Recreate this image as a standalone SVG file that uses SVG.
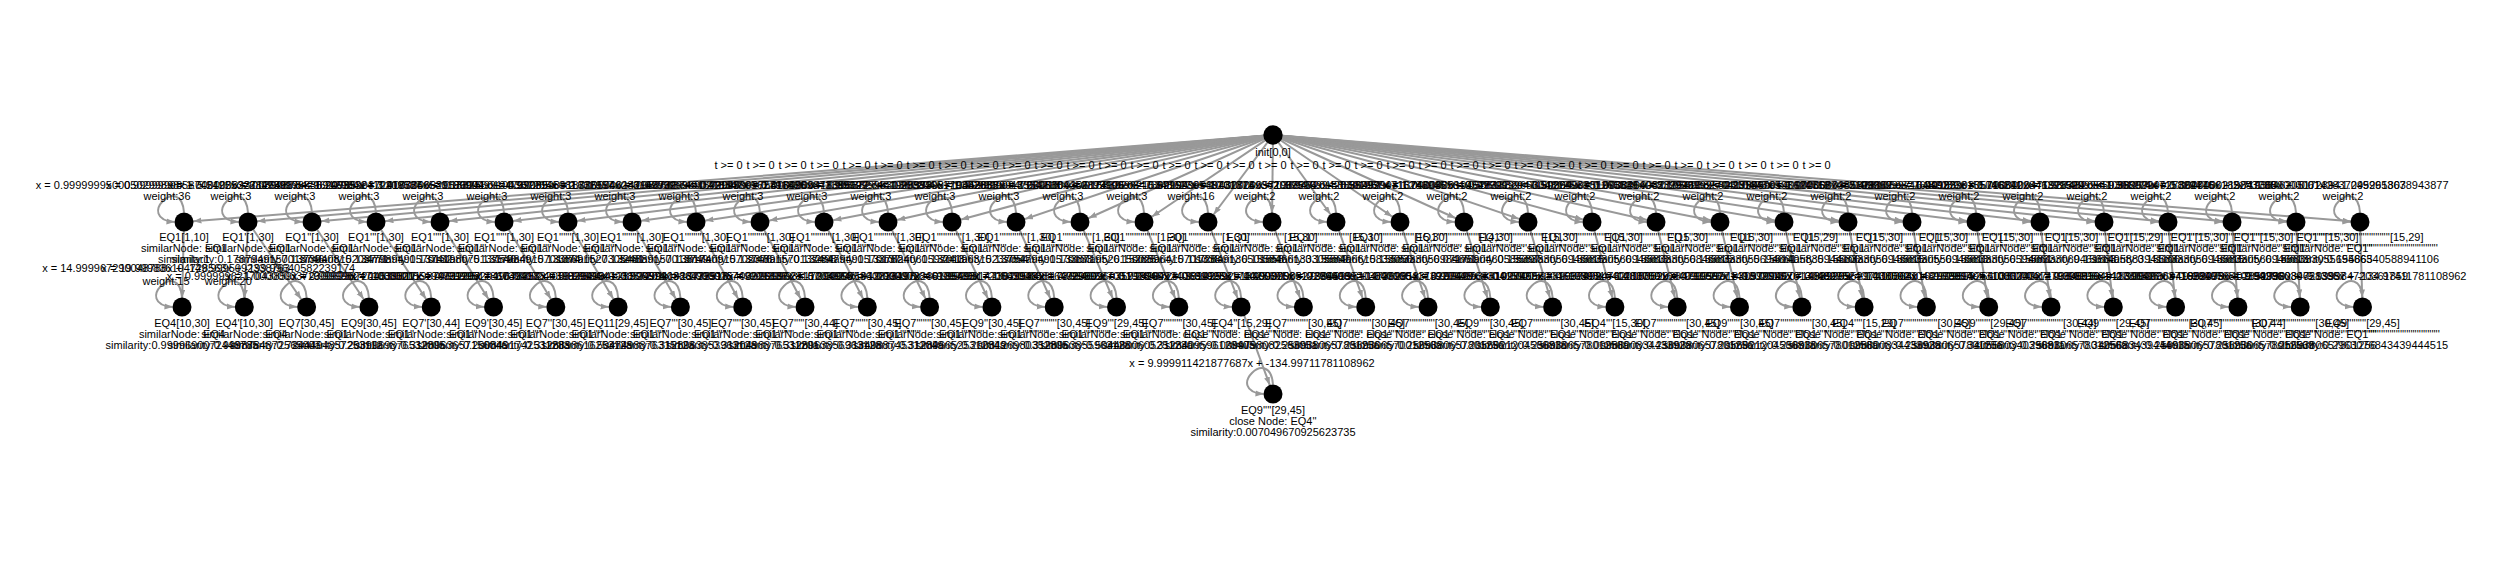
<svg xmlns="http://www.w3.org/2000/svg" width="2500" height="562" viewBox="0 0 2500 562">
<style>
text{font-family:"Liberation Sans",Arial,sans-serif;font-size:11px;fill:#000;text-anchor:middle}
.e{stroke:#999;stroke-width:2;fill:none}
.l{marker-end:url(#b)}
circle{fill:#000}
</style>
<defs>
<marker id="a" markerUnits="userSpaceOnUse" markerWidth="10" markerHeight="8" refX="8" refY="3" orient="auto"><path d="M0,0L8,3L0,6z" fill="#999"/></marker>
<marker id="b" markerUnits="userSpaceOnUse" markerWidth="10" markerHeight="8" refX="17.5" refY="3" orient="auto"><path d="M0,0L8,3L0,6z" fill="#999"/></marker>
<path id="lp" class="e" d="M0,-9.5C-3,-50 -50,-3 -9.5,0" marker-end="url(#a)"/>
</defs>
<rect width="2500" height="562" fill="#fff"/>
<g id="connectors">
<g id="root-edges">
<line class="e l" x1="1273" y1="135" x2="184" y2="222"/>
<line class="e l" x1="1273" y1="135" x2="248" y2="222"/>
<line class="e l" x1="1273" y1="135" x2="312" y2="222"/>
<line class="e l" x1="1273" y1="135" x2="376" y2="222"/>
<line class="e l" x1="1273" y1="135" x2="440" y2="222"/>
<line class="e l" x1="1273" y1="135" x2="504" y2="222"/>
<line class="e l" x1="1273" y1="135" x2="568" y2="222"/>
<line class="e l" x1="1273" y1="135" x2="632" y2="222"/>
<line class="e l" x1="1273" y1="135" x2="696" y2="222"/>
<line class="e l" x1="1273" y1="135" x2="760" y2="222"/>
<line class="e l" x1="1273" y1="135" x2="824" y2="222"/>
<line class="e l" x1="1273" y1="135" x2="888" y2="222"/>
<line class="e l" x1="1273" y1="135" x2="952" y2="222"/>
<line class="e l" x1="1273" y1="135" x2="1016" y2="222"/>
<line class="e l" x1="1273" y1="135" x2="1080" y2="222"/>
<line class="e l" x1="1273" y1="135" x2="1144" y2="222"/>
<line class="e l" x1="1273" y1="135" x2="1208" y2="222"/>
<line class="e l" x1="1273" y1="135" x2="1272" y2="222"/>
<line class="e l" x1="1273" y1="135" x2="1336" y2="222"/>
<line class="e l" x1="1273" y1="135" x2="1400" y2="222"/>
<line class="e l" x1="1273" y1="135" x2="1464" y2="222"/>
<line class="e l" x1="1273" y1="135" x2="1528" y2="222"/>
<line class="e l" x1="1273" y1="135" x2="1592" y2="222"/>
<line class="e l" x1="1273" y1="135" x2="1656" y2="222"/>
<line class="e l" x1="1273" y1="135" x2="1720" y2="222"/>
<line class="e l" x1="1273" y1="135" x2="1784" y2="222"/>
<line class="e l" x1="1273" y1="135" x2="1848" y2="222"/>
<line class="e l" x1="1273" y1="135" x2="1912" y2="222"/>
<line class="e l" x1="1273" y1="135" x2="1976" y2="222"/>
<line class="e l" x1="1273" y1="135" x2="2040" y2="222"/>
<line class="e l" x1="1273" y1="135" x2="2104" y2="222"/>
<line class="e l" x1="1273" y1="135" x2="2168" y2="222"/>
<line class="e l" x1="1273" y1="135" x2="2232" y2="222"/>
<line class="e l" x1="1273" y1="135" x2="2296" y2="222"/>
<line class="e l" x1="1273" y1="135" x2="2360" y2="222"/>
</g>
<g id="row-edges">
<line class="e l" x1="184" y1="222" x2="182" y2="307"/>
<line class="e l" x1="248" y1="222" x2="244.3" y2="307"/>
<line class="e l" x1="248" y1="222" x2="306.6" y2="307"/>
<line class="e l" x1="312" y1="222" x2="368.9" y2="307"/>
<line class="e l" x1="376" y1="222" x2="431.2" y2="307"/>
<line class="e l" x1="440" y1="222" x2="493.5" y2="307"/>
<line class="e l" x1="504" y1="222" x2="555.8" y2="307"/>
<line class="e l" x1="568" y1="222" x2="618.1" y2="307"/>
<line class="e l" x1="632" y1="222" x2="680.4" y2="307"/>
<line class="e l" x1="696" y1="222" x2="742.7" y2="307"/>
<line class="e l" x1="760" y1="222" x2="805" y2="307"/>
<line class="e l" x1="824" y1="222" x2="867.3" y2="307"/>
<line class="e l" x1="888" y1="222" x2="929.6" y2="307"/>
<line class="e l" x1="952" y1="222" x2="991.9" y2="307"/>
<line class="e l" x1="1016" y1="222" x2="1054.2" y2="307"/>
<line class="e l" x1="1080" y1="222" x2="1116.5" y2="307"/>
<line class="e l" x1="1144" y1="222" x2="1178.8" y2="307"/>
<line class="e l" x1="1208" y1="222" x2="1241.1" y2="307"/>
<line class="e l" x1="1272" y1="222" x2="1303.4" y2="307"/>
<line class="e l" x1="1336" y1="222" x2="1365.7" y2="307"/>
<line class="e l" x1="1400" y1="222" x2="1428" y2="307"/>
<line class="e l" x1="1464" y1="222" x2="1490.3" y2="307"/>
<line class="e l" x1="1528" y1="222" x2="1552.6" y2="307"/>
<line class="e l" x1="1592" y1="222" x2="1614.9" y2="307"/>
<line class="e l" x1="1656" y1="222" x2="1677.2" y2="307"/>
<line class="e l" x1="1720" y1="222" x2="1739.5" y2="307"/>
<line class="e l" x1="1784" y1="222" x2="1801.8" y2="307"/>
<line class="e l" x1="1848" y1="222" x2="1864.1" y2="307"/>
<line class="e l" x1="1912" y1="222" x2="1926.4" y2="307"/>
<line class="e l" x1="1976" y1="222" x2="1988.7" y2="307"/>
<line class="e l" x1="2040" y1="222" x2="2051" y2="307"/>
<line class="e l" x1="2104" y1="222" x2="2113.3" y2="307"/>
<line class="e l" x1="2168" y1="222" x2="2175.6" y2="307"/>
<line class="e l" x1="2232" y1="222" x2="2237.9" y2="307"/>
<line class="e l" x1="2296" y1="222" x2="2300.2" y2="307"/>
<line class="e l" x1="2360" y1="222" x2="2362.5" y2="307"/>
<line class="e l" x1="1241.1" y1="307" x2="1273" y2="394"/>
</g>
<g id="loops">
<use href="#lp" x="184" y="222"/><use href="#lp" x="248" y="222"/><use href="#lp" x="312" y="222"/><use href="#lp" x="376" y="222"/><use href="#lp" x="440" y="222"/><use href="#lp" x="504" y="222"/><use href="#lp" x="568" y="222"/><use href="#lp" x="632" y="222"/><use href="#lp" x="696" y="222"/><use href="#lp" x="760" y="222"/><use href="#lp" x="824" y="222"/><use href="#lp" x="888" y="222"/><use href="#lp" x="952" y="222"/><use href="#lp" x="1016" y="222"/><use href="#lp" x="1080" y="222"/><use href="#lp" x="1144" y="222"/><use href="#lp" x="1208" y="222"/><use href="#lp" x="1272" y="222"/><use href="#lp" x="1336" y="222"/><use href="#lp" x="1400" y="222"/><use href="#lp" x="1464" y="222"/><use href="#lp" x="1528" y="222"/><use href="#lp" x="1592" y="222"/><use href="#lp" x="1656" y="222"/><use href="#lp" x="1720" y="222"/><use href="#lp" x="1784" y="222"/><use href="#lp" x="1848" y="222"/><use href="#lp" x="1912" y="222"/><use href="#lp" x="1976" y="222"/><use href="#lp" x="2040" y="222"/><use href="#lp" x="2104" y="222"/><use href="#lp" x="2168" y="222"/><use href="#lp" x="2232" y="222"/><use href="#lp" x="2296" y="222"/><use href="#lp" x="2360" y="222"/>
<use href="#lp" x="182" y="307"/><use href="#lp" x="244.3" y="307"/><use href="#lp" x="306.6" y="307"/><use href="#lp" x="368.9" y="307"/><use href="#lp" x="431.2" y="307"/><use href="#lp" x="493.5" y="307"/><use href="#lp" x="555.8" y="307"/><use href="#lp" x="618.1" y="307"/><use href="#lp" x="680.4" y="307"/><use href="#lp" x="742.7" y="307"/><use href="#lp" x="805" y="307"/><use href="#lp" x="867.3" y="307"/><use href="#lp" x="929.6" y="307"/><use href="#lp" x="991.9" y="307"/><use href="#lp" x="1054.2" y="307"/><use href="#lp" x="1116.5" y="307"/><use href="#lp" x="1178.8" y="307"/><use href="#lp" x="1241.1" y="307"/><use href="#lp" x="1303.4" y="307"/><use href="#lp" x="1365.7" y="307"/><use href="#lp" x="1428" y="307"/><use href="#lp" x="1490.3" y="307"/><use href="#lp" x="1552.6" y="307"/><use href="#lp" x="1614.9" y="307"/><use href="#lp" x="1677.2" y="307"/><use href="#lp" x="1739.5" y="307"/><use href="#lp" x="1801.8" y="307"/><use href="#lp" x="1864.1" y="307"/><use href="#lp" x="1926.4" y="307"/><use href="#lp" x="1988.7" y="307"/><use href="#lp" x="2051" y="307"/><use href="#lp" x="2113.3" y="307"/><use href="#lp" x="2175.6" y="307"/><use href="#lp" x="2237.9" y="307"/><use href="#lp" x="2300.2" y="307"/><use href="#lp" x="2362.5" y="307"/>
<use href="#lp" x="1273" y="394"/>
</g>
<g id="edge-labels">
<text x="728.5" y="169">t &gt;= 0</text><text x="760.5" y="169">t &gt;= 0</text><text x="792.5" y="169">t &gt;= 0</text><text x="824.5" y="169">t &gt;= 0</text><text x="856.5" y="169">t &gt;= 0</text><text x="888.5" y="169">t &gt;= 0</text><text x="920.5" y="169">t &gt;= 0</text><text x="952.5" y="169">t &gt;= 0</text><text x="984.5" y="169">t &gt;= 0</text><text x="1016.5" y="169">t &gt;= 0</text><text x="1048.5" y="169">t &gt;= 0</text><text x="1080.5" y="169">t &gt;= 0</text><text x="1112.5" y="169">t &gt;= 0</text><text x="1144.5" y="169">t &gt;= 0</text><text x="1176.5" y="169">t &gt;= 0</text><text x="1208.5" y="169">t &gt;= 0</text><text x="1240.5" y="169">t &gt;= 0</text><text x="1272.5" y="169">t &gt;= 0</text><text x="1304.5" y="169">t &gt;= 0</text><text x="1336.5" y="169">t &gt;= 0</text><text x="1368.5" y="169">t &gt;= 0</text><text x="1400.5" y="169">t &gt;= 0</text><text x="1432.5" y="169">t &gt;= 0</text><text x="1464.5" y="169">t &gt;= 0</text><text x="1496.5" y="169">t &gt;= 0</text><text x="1528.5" y="169">t &gt;= 0</text><text x="1560.5" y="169">t &gt;= 0</text><text x="1592.5" y="169">t &gt;= 0</text><text x="1624.5" y="169">t &gt;= 0</text><text x="1656.5" y="169">t &gt;= 0</text><text x="1688.5" y="169">t &gt;= 0</text><text x="1720.5" y="169">t &gt;= 0</text><text x="1752.5" y="169">t &gt;= 0</text><text x="1784.5" y="169">t &gt;= 0</text><text x="1816.5" y="169">t &gt;= 0</text>
<text x="167" y="189">x = 0.9999999500050299898x + 5.249253268473917<tspan x="167" dy="10.5">weight:36</tspan></text>
<text x="231" y="189">x = 0.9999999858745125x + 2.0399873429620785<tspan x="231" dy="10.5">weight:3</tspan></text>
<text x="295" y="189">x = 1.0000000237126488x + -1.7463832410209587<tspan x="295" dy="10.5">weight:3</tspan></text>
<text x="359" y="189">x = 0.9999998836912934x + 3.4173246530186904<tspan x="359" dy="10.5">weight:3</tspan></text>
<text x="423" y="189">x = 0.9999999372918735x + 1.1382560194732085<tspan x="423" dy="10.5">weight:3</tspan></text>
<text x="487" y="189">x = 1.0000000629573041x + -0.9327145081632957<tspan x="487" dy="10.5">weight:3</tspan></text>
<text x="551" y="189">x = 0.9999999104387265x + 2.7351946280147732<tspan x="551" dy="10.5">weight:3</tspan></text>
<text x="615" y="189">x = 0.9999998918326574x + 3.0826637491572046<tspan x="615" dy="10.5">weight:3</tspan></text>
<text x="679" y="189">x = 1.0000000142958736x + -0.4219380562791836<tspan x="679" dy="10.5">weight:3</tspan></text>
<text x="743" y="189">x = 0.9999999690218347x + 0.8164209873385127<tspan x="743" dy="10.5">weight:3</tspan></text>
<text x="807" y="189">x = 0.9999999275413096x + 1.9053827461928373<tspan x="807" dy="10.5">weight:3</tspan></text>
<text x="871" y="189">x = 1.0000000418396572x + -1.2038465179302655<tspan x="871" dy="10.5">weight:3</tspan></text>
<text x="935" y="189">x = 0.9999999531867204x + 1.4426380917554218<tspan x="935" dy="10.5">weight:3</tspan></text>
<text x="999" y="189">x = 0.9999998719053862x + 3.6298104452873106<tspan x="999" dy="10.5">weight:3</tspan></text>
<text x="1063" y="189">x = 0.9999999947261538x + 0.1583920847362194<tspan x="1063" dy="10.5">weight:3</tspan></text>
<text x="1127" y="189">x = 1.0000000306174925x + -0.8716239548201373<tspan x="1127" dy="10.5">weight:3</tspan></text>
<text x="1191" y="189">x = 0.9999996215348027x + 10.318249362087516<tspan x="1191" dy="10.5">weight:16</tspan></text>
<text x="1255" y="189">x = 0.9999999089432716x + 2.3694720158836492<tspan x="1255" dy="10.5">weight:2</tspan></text>
<text x="1319" y="189">x = 1.0000000571938264x + -1.5829304716283945<tspan x="1319" dy="10.5">weight:2</tspan></text>
<text x="1383" y="189">x = 0.9999999428301957x + 1.7420365819547721<tspan x="1383" dy="10.5">weight:2</tspan></text>
<text x="1447" y="189">x = 0.9999999813746092x + 0.5061832947150364<tspan x="1447" dy="10.5">weight:2</tspan></text>
<text x="1511" y="189">x = 1.0000000194628307x + -0.5127493801265539<tspan x="1511" dy="10.5">weight:2</tspan></text>
<text x="1575" y="189">x = 0.9999999663048125x + 0.9738214065329187<tspan x="1575" dy="10.5">weight:2</tspan></text>
<text x="1639" y="189">x = 0.9999999251093846x + 2.1056938270417845<tspan x="1639" dy="10.5">weight:2</tspan></text>
<text x="1703" y="189">x = 1.0000000082736419x + -0.2318470593624718<tspan x="1703" dy="10.5">weight:2</tspan></text>
<text x="1767" y="189">x = 0.9999999582610473x + 1.1903627485103362<tspan x="1767" dy="10.5">weight:2</tspan></text>
<text x="1831" y="189">x = 0.9999999140972658x + 2.4681059327640183<tspan x="1831" dy="10.5">weight:2</tspan></text>
<text x="1895" y="189">x = 1.0000000365829107x + -1.0492738155046291<tspan x="1895" dy="10.5">weight:2</tspan></text>
<text x="1959" y="189">x = 0.9999999716482039x + 0.7935102846371529<tspan x="1959" dy="10.5">weight:2</tspan></text>
<text x="2023" y="189">x = 0.9999999305716842x + 1.9374820561038267<tspan x="2023" dy="10.5">weight:2</tspan></text>
<text x="2087" y="189">x = 1.0000000471928364x + -1.3680294715829476<tspan x="2087" dy="10.5">weight:2</tspan></text>
<text x="2151" y="189">x = 0.9999999859301274x + 0.3927406185293738<tspan x="2151" dy="10.5">weight:2</tspan></text>
<text x="2215" y="189">x = 0.9999999027364815x + 2.7193846205172394<tspan x="2215" dy="10.5">weight:2</tspan></text>
<text x="2279" y="189">x = 1.0000000219847365x + -0.6142837095261803<tspan x="2279" dy="10.5">weight:2</tspan></text>
<text x="2343" y="189">x = 1.000000001x + -1.2499953678943877<tspan x="2343" dy="10.5">weight:2</tspan></text>
<text x="166" y="272">x = 14.999967290048788x + -149.9995092338763<tspan x="166" dy="13">weight:15</tspan></text>
<text x="228.3" y="272">x = 19.999836104728563x + -199.99640582239174<tspan x="228.3" dy="13">weight:20</tspan></text>
<text x="290.6" y="280">x = 0.9999996217043859x + -9.999982471038521</text>
<text x="352.9" y="280">x = 1.0000003372300628x + -10.000055194731207</text>
<text x="415.2" y="280">x = 0.9999987204539817x + -9.999951286730417</text>
<text x="477.5" y="280">x = 1.0000001937461205x + -10.000024039826413</text>
<text x="539.8" y="280">x = 0.9999992049678352x + -9.999964093857201</text>
<text x="602.1" y="280">x = 1.0499983205617834x + -11.249941028735916</text>
<text x="664.4" y="280">x = 0.9999994128306574x + -9.999975403926187</text>
<text x="726.7" y="280">x = 0.9999990386472518x + -9.999962815703924</text>
<text x="789" y="280">x = 1.0000006749201836x + -10.000071942836105</text>
<text x="851.3" y="280">x = 0.9999993517204968x + -9.999970236185493</text>
<text x="913.6" y="280">x = 0.9999995860213497x + -9.999981720563948</text>
<text x="975.9" y="280">x = 1.0000002846109735x + -10.000038164729502</text>
<text x="1038.2" y="280">x = 0.9999991473620584x + -9.999963705192846</text>
<text x="1100.5" y="280">x = 1.0499992817365402x + -11.249972603814259</text>
<text x="1162.8" y="280">x = 0.9999996035718264x + -9.999983174025691</text>
<text x="1225.1" y="280">x = 0.9999999240631925x + 14.000008519276403</text>
<text x="1287.4" y="280">x = 0.9999992918460375x + -9.999969203847165</text>
<text x="1349.7" y="280">x = 0.9999990627384519x + -9.999958316207429</text>
<text x="1412" y="280">x = 0.9999995104736281x + -9.999976830415927</text>
<text x="1474.3" y="280">x = 1.0000004173920648x + -10.000059281637402</text>
<text x="1536.6" y="280">x = 0.9999993381027465x + -9.999971640283759</text>
<text x="1598.9" y="280">x = 0.9999998204617395x + 14.000029384710562</text>
<text x="1661.2" y="280">x = 0.9999994762018359x + -9.999977149302618</text>
<text x="1723.5" y="280">x = 1.0000001684093726x + -10.000020714839265</text>
<text x="1785.8" y="280">x = 0.9999991830572946x + -9.999962407138592</text>
<text x="1848.1" y="280">x = 0.9999997613048275x + 14.000040162973814</text>
<text x="1910.4" y="280">x = 0.9999995297410368x + -9.999979531086247</text>
<text x="1972.7" y="280">x = 1.0000003048162957x + -10.000041279305816</text>
<text x="2035" y="280">x = 0.9999992560381749x + -9.999968142730596</text>
<text x="2097.3" y="280">x = 1.0000002719384015x + -10.000036941852073</text>
<text x="2159.6" y="280">x = 0.9999994918306427x + -9.999976510394286</text>
<text x="2221.9" y="280">x = 0.9999990371628405x + -9.999960847213957</text>
<text x="2284.2" y="280">x = 0.9999996402851739x + -9.999984720361859</text>
<text x="2346.5" y="280">x = 9.99992039658338x + -134.97411781108962</text>
<text x="1252" y="367">x = 9.999911421877687x + -134.99711781108962</text>
</g>
</g>
<g id="n-init"><circle cx="1273" cy="135" r="9.7"/><text x="1273" y="156">init[0,0]</text></g>
<g id="r1-0"><circle cx="184" cy="222" r="9.5"/><text x="184" y="241">EQ1[1,10]</text><text x="184" y="252">similarNode: EQ1</text><text x="184" y="263">similarity:1</text></g>
<g id="r1-1"><circle cx="248" cy="222" r="9.5"/><text x="248" y="241">EQ1'[1,30]</text><text x="248" y="252">similarNode: EQ1</text><text x="248" y="263">similarity:0.1787949157013746</text></g>
<g id="r1-2"><circle cx="312" cy="222" r="9.5"/><text x="312" y="241">EQ1''[1,30]</text><text x="312" y="252">similarNode: EQ1'</text><text x="312" y="263">similarity:0.1373940815203771</text></g>
<g id="r1-3"><circle cx="376" cy="222" r="9.5"/><text x="376" y="241">EQ1'''[1,30]</text><text x="376" y="252">similarNode: EQ1''</text><text x="376" y="263">similarity:0.1347989491570132</text></g>
<g id="r1-4"><circle cx="440" cy="222" r="9.5"/><text x="440" y="241">EQ1''''[1,30]</text><text x="440" y="252">similarNode: EQ1'''</text><text x="440" y="263">similarity:0.1374198075137546</text></g>
<g id="r1-5"><circle cx="504" cy="222" r="9.5"/><text x="504" y="241">EQ1'''''[1,30]</text><text x="504" y="252">similarNode: EQ1''''</text><text x="504" y="263">similarity:0.1317984915701374</text></g>
<g id="r1-6"><circle cx="568" cy="222" r="9.5"/><text x="568" y="241">EQ1''''''[1,30]</text><text x="568" y="252">similarNode: EQ1'''''</text><text x="568" y="263">similarity:0.1338691527305481</text></g>
<g id="r1-7"><circle cx="632" cy="222" r="9.5"/><text x="632" y="241">EQ1'''''''[1,30]</text><text x="632" y="252">similarNode: EQ1''''''</text><text x="632" y="263">similarity:0.1324889157013749</text></g>
<g id="r1-8"><circle cx="696" cy="222" r="9.5"/><text x="696" y="241">EQ1''''''''[1,30]</text><text x="696" y="252">similarNode: EQ1'''''''</text><text x="696" y="263">similarity:0.1381740915702376</text></g>
<g id="r1-9"><circle cx="760" cy="222" r="9.5"/><text x="760" y="241">EQ1'''''''''[1,30]</text><text x="760" y="252">similarNode: EQ1''''''''</text><text x="760" y="263">similarity:0.1374891570137498</text></g>
<g id="r1-10"><circle cx="824" cy="222" r="9.5"/><text x="824" y="241">EQ1''''''''''[1,30]</text><text x="824" y="252">similarNode: EQ1'''''''''</text><text x="824" y="263">similarity:0.1328479491570137</text></g>
<g id="r1-11"><circle cx="888" cy="222" r="9.5"/><text x="888" y="241">EQ1'''''''''''[1,30]</text><text x="888" y="252">similarNode: EQ1''''''''''</text><text x="888" y="263">similarity:0.1337824061597013</text></g>
<g id="r1-12"><circle cx="952" cy="222" r="9.5"/><text x="952" y="241">EQ1''''''''''''[1,30]</text><text x="952" y="252">similarNode: EQ1'''''''''''</text><text x="952" y="263">similarity:0.1324196315237054</text></g>
<g id="r1-13"><circle cx="1016" cy="222" r="9.5"/><text x="1016" y="241">EQ1'''''''''''''[1,30]</text><text x="1016" y="252">similarNode: EQ1''''''''''''</text><text x="1016" y="263">similarity:0.1375479491570133</text></g>
<g id="r1-14"><circle cx="1080" cy="222" r="9.5"/><text x="1080" y="241">EQ1''''''''''''''[1,30]</text><text x="1080" y="252">similarNode: EQ1'''''''''''''</text><text x="1080" y="263">similarity:0.1338719526150025</text></g>
<g id="r1-15"><circle cx="1144" cy="222" r="9.5"/><text x="1144" y="241">EQ1'''''''''''''''[1,30]</text><text x="1144" y="252">similarNode: EQ1''''''''''''''</text><text x="1144" y="263">similarity:0.1528596415701338</text></g>
<g id="r1-16"><circle cx="1208" cy="222" r="9.5"/><text x="1208" y="241">EQ1''''''''''''''''[1,30]</text><text x="1208" y="252">similarNode: EQ1'''''''''''''''</text><text x="1208" y="263">similarity:0.1172849136501558</text></g>
<g id="r1-17"><circle cx="1272" cy="222" r="9.5"/><text x="1272" y="241">EQ1'''''''''''''''''[15,30]</text><text x="1272" y="252">similarNode: EQ1''''''''''''''''</text><text x="1272" y="263">similarity:0.1558466133305569</text></g>
<g id="r1-18"><circle cx="1336" cy="222" r="9.5"/><text x="1336" y="241">EQ1''''''''''''''''''[15,30]</text><text x="1336" y="252">similarNode: EQ1'''''''''''''''''</text><text x="1336" y="263">similarity:0.1558406615833056</text></g>
<g id="r1-19"><circle cx="1400" cy="222" r="9.5"/><text x="1400" y="241">EQ1'''''''''''''''''''[15,30]</text><text x="1400" y="252">similarNode: EQ1''''''''''''''''''</text><text x="1400" y="263">similarity:0.1558333056984661</text></g>
<g id="r1-20"><circle cx="1464" cy="222" r="9.5"/><text x="1464" y="241">EQ1''''''''''''''''''''[14,30]</text><text x="1464" y="252">similarNode: EQ1'''''''''''''''''''</text><text x="1464" y="263">similarity:0.0717590460585397</text></g>
<g id="r1-21"><circle cx="1528" cy="222" r="9.5"/><text x="1528" y="241">EQ1'''''''''''''''''''''[15,30]</text><text x="1528" y="252">similarNode: EQ1''''''''''''''''''''</text><text x="1528" y="263">similarity:0.1558333056946615</text></g>
<g id="r1-22"><circle cx="1592" cy="222" r="9.5"/><text x="1592" y="241">EQ1''''''''''''''''''''''[15,30]</text><text x="1592" y="252">similarNode: EQ1'''''''''''''''''''''</text><text x="1592" y="263">similarity:0.1558330566946613</text></g>
<g id="r1-23"><circle cx="1656" cy="222" r="9.5"/><text x="1656" y="241">EQ1'''''''''''''''''''''''[15,30]</text><text x="1656" y="252">similarNode: EQ1''''''''''''''''''''''</text><text x="1656" y="263">similarity:0.1558333056846615</text></g>
<g id="r1-24"><circle cx="1720" cy="222" r="9.5"/><text x="1720" y="241">EQ1''''''''''''''''''''''''[15,30]</text><text x="1720" y="252">similarNode: EQ1'''''''''''''''''''''''</text><text x="1720" y="263">similarity:0.1558333055694661</text></g>
<g id="r1-25"><circle cx="1784" cy="222" r="9.5"/><text x="1784" y="241">EQ1'''''''''''''''''''''''''[15,29]</text><text x="1784" y="252">similarNode: EQ1''''''''''''''''''''''''</text><text x="1784" y="263">similarity:0.1561405835944106</text></g>
<g id="r1-26"><circle cx="1848" cy="222" r="9.5"/><text x="1848" y="241">EQ1''''''''''''''''''''''''''[15,30]</text><text x="1848" y="252">similarNode: EQ1'''''''''''''''''''''''''</text><text x="1848" y="263">similarity:0.1558333056946615</text></g>
<g id="r1-27"><circle cx="1912" cy="222" r="9.5"/><text x="1912" y="241">EQ1'''''''''''''''''''''''''''[15,30]</text><text x="1912" y="252">similarNode: EQ1''''''''''''''''''''''''''</text><text x="1912" y="263">similarity:0.1558330556946613</text></g>
<g id="r1-28"><circle cx="1976" cy="222" r="9.5"/><text x="1976" y="241">EQ1''''''''''''''''''''''''''''[15,30]</text><text x="1976" y="252">similarNode: EQ1'''''''''''''''''''''''''''</text><text x="1976" y="263">similarity:0.1558333056594661</text></g>
<g id="r1-29"><circle cx="2040" cy="222" r="9.5"/><text x="2040" y="241">EQ1'''''''''''''''''''''''''''''[15,30]</text><text x="2040" y="252">similarNode: EQ1''''''''''''''''''''''''''''</text><text x="2040" y="263">similarity:0.1558333069461583</text></g>
<g id="r1-30"><circle cx="2104" cy="222" r="9.5"/><text x="2104" y="241">EQ1''''''''''''''''''''''''''''''[15,29]</text><text x="2104" y="252">similarNode: EQ1'''''''''''''''''''''''''''''</text><text x="2104" y="263">similarity:0.1561405883941106</text></g>
<g id="r1-31"><circle cx="2168" cy="222" r="9.5"/><text x="2168" y="241">EQ1'''''''''''''''''''''''''''''''[15,30]</text><text x="2168" y="252">similarNode: EQ1''''''''''''''''''''''''''''''</text><text x="2168" y="263">similarity:0.1558333056946615</text></g>
<g id="r1-32"><circle cx="2232" cy="222" r="9.5"/><text x="2232" y="241">EQ1''''''''''''''''''''''''''''''''[15,30]</text><text x="2232" y="252">similarNode: EQ1'''''''''''''''''''''''''''''''</text><text x="2232" y="263">similarity:0.1558330566946613</text></g>
<g id="r1-33"><circle cx="2296" cy="222" r="9.5"/><text x="2296" y="241">EQ1'''''''''''''''''''''''''''''''''[15,30]</text><text x="2296" y="252">similarNode: EQ1''''''''''''''''''''''''''''''''</text><text x="2296" y="263">similarity:0.1558333055694663</text></g>
<g id="r1-34"><circle cx="2360" cy="222" r="9.5"/><text x="2360" y="241">EQ1''''''''''''''''''''''''''''''''''[15,29]</text><text x="2360" y="252">similarNode: EQ1'''''''''''''''''''''''''''''''''</text><text x="2360" y="263">similarity:0.15586540588941106</text></g>
<g id="r2-0"><circle cx="182" cy="307" r="9.5"/><text x="182" y="327">EQ4[10,30]</text><text x="182" y="338">similarNode: EQ4</text><text x="182" y="349">similarity:0.9999690072448785</text></g>
<g id="r2-1"><circle cx="244.3" cy="307" r="9.5"/><text x="244.3" y="327">EQ4'[10,30]</text><text x="244.3" y="338">similarNode: EQ4</text><text x="244.3" y="349">similarity:0.9998784872565007</text></g>
<g id="r2-2"><circle cx="306.6" cy="307" r="9.5"/><text x="306.6" y="327">EQ7[30,45]</text><text x="306.6" y="338">similarNode: EQ1'</text><text x="306.6" y="349">similarity:0.7244494857253112</text></g>
<g id="r2-3"><circle cx="368.9" cy="307" r="9.5"/><text x="368.9" y="327">EQ9[30,45]</text><text x="368.9" y="338">similarNode: EQ1''</text><text x="368.9" y="349">similarity:0.2039969876532005</text></g>
<g id="r2-4"><circle cx="431.2" cy="307" r="9.5"/><text x="431.2" y="327">EQ7'[30,44]</text><text x="431.2" y="338">similarNode: EQ1'''</text><text x="431.2" y="349">similarity:0.3128963657156046</text></g>
<g id="r2-5"><circle cx="493.5" cy="307" r="9.5"/><text x="493.5" y="327">EQ9'[30,45]</text><text x="493.5" y="338">similarNode: EQ1''''</text><text x="493.5" y="349">similarity:0.2008491742531283</text></g>
<g id="r2-6"><circle cx="555.8" cy="307" r="9.5"/><text x="555.8" y="327">EQ7''[30,45]</text><text x="555.8" y="338">similarNode: EQ1'''''</text><text x="555.8" y="349">similarity:0.3128898616253128</text></g>
<g id="r2-7"><circle cx="618.1" cy="307" r="9.5"/><text x="618.1" y="327">EQ11[29,45]</text><text x="618.1" y="338">similarNode: EQ1''''''</text><text x="618.1" y="349">similarity:0.5047498876315123</text></g>
<g id="r2-8"><circle cx="680.4" cy="307" r="9.5"/><text x="680.4" y="327">EQ7'''[30,45]</text><text x="680.4" y="338">similarNode: EQ1'''''''</text><text x="680.4" y="349">similarity:0.3128963853963128</text></g>
<g id="r2-9"><circle cx="742.7" cy="307" r="9.5"/><text x="742.7" y="327">EQ7''''[30,45]</text><text x="742.7" y="338">similarNode: EQ1''''''''</text><text x="742.7" y="349">similarity:0.3120498876531201</text></g>
<g id="r2-10"><circle cx="805" cy="307" r="9.5"/><text x="805" y="327">EQ7'''''[30,44]</text><text x="805" y="338">similarNode: EQ1'''''''''</text><text x="805" y="349">similarity:0.3128963856963128</text></g>
<g id="r2-11"><circle cx="867.3" cy="307" r="9.5"/><text x="867.3" y="327">EQ7''''''[30,45]</text><text x="867.3" y="338">similarNode: EQ1''''''''''</text><text x="867.3" y="349">similarity:0.3134988745312049</text></g>
<g id="r2-12"><circle cx="929.6" cy="307" r="9.5"/><text x="929.6" y="327">EQ7'''''''[30,45]</text><text x="929.6" y="338">similarNode: EQ1'''''''''''</text><text x="929.6" y="349">similarity:0.3128966525312849</text></g>
<g id="r2-13"><circle cx="991.9" cy="307" r="9.5"/><text x="991.9" y="327">EQ9''[30,45]</text><text x="991.9" y="338">similarNode: EQ1''''''''''''</text><text x="991.9" y="349">similarity:0.2003126980352805</text></g>
<g id="r2-14"><circle cx="1054.2" cy="307" r="9.5"/><text x="1054.2" y="327">EQ7''''''''[30,45]</text><text x="1054.2" y="338">similarNode: EQ1'''''''''''''</text><text x="1054.2" y="349">similarity:0.3128963855963128</text></g>
<g id="r2-15"><circle cx="1116.5" cy="307" r="9.5"/><text x="1116.5" y="327">EQ9'''[29,45]</text><text x="1116.5" y="338">similarNode: EQ1''''''''''''''</text><text x="1116.5" y="349">similarity:0.5044800605251230</text></g>
<g id="r2-16"><circle cx="1178.8" cy="307" r="9.5"/><text x="1178.8" y="327">EQ7'''''''''[30,45]</text><text x="1178.8" y="338">similarNode: EQ1'''''''''''''''</text><text x="1178.8" y="349">similarity:0.3123409596128405</text></g>
<g id="r2-17"><circle cx="1241.1" cy="307" r="9.5"/><text x="1241.1" y="327">EQ4''[15,29]</text><text x="1241.1" y="338">close Node: EQ1''''''''''''''''</text><text x="1241.1" y="349">similarity:0.0099798082563051</text></g>
<g id="r2-18"><circle cx="1303.4" cy="307" r="9.5"/><text x="1303.4" y="327">EQ7''''''''''[30,45]</text><text x="1303.4" y="338">close Node: EQ1'''''''''''''''''</text><text x="1303.4" y="349">similarity:0.2569380657801256</text></g>
<g id="r2-19"><circle cx="1365.7" cy="307" r="9.5"/><text x="1365.7" y="327">EQ7'''''''''''[30,45]</text><text x="1365.7" y="338">close Node: EQ1''''''''''''''''''</text><text x="1365.7" y="349">similarity:0.2569306570012569</text></g>
<g id="r2-20"><circle cx="1428" cy="307" r="9.5"/><text x="1428" y="327">EQ7''''''''''''[30,45]</text><text x="1428" y="338">close Node: EQ1'''''''''''''''''''</text><text x="1428" y="349">similarity:0.2569380657801256</text></g>
<g id="r2-21"><circle cx="1490.3" cy="307" r="9.5"/><text x="1490.3" y="327">EQ9'''''[30,45]</text><text x="1490.3" y="338">close Node: EQ1''''''''''''''''''''</text><text x="1490.3" y="349">similarity:0.2056921204506818</text></g>
<g id="r2-22"><circle cx="1552.6" cy="307" r="9.5"/><text x="1552.6" y="327">EQ7'''''''''''''[30,45]</text><text x="1552.6" y="338">close Node: EQ1'''''''''''''''''''''</text><text x="1552.6" y="349">similarity:0.2569306578012569</text></g>
<g id="r2-23"><circle cx="1614.9" cy="307" r="9.5"/><text x="1614.9" y="327">EQ4'''[15,30]</text><text x="1614.9" y="338">close Node: EQ1''''''''''''''''''''''</text><text x="1614.9" y="349">similarity:0.0098800834433929</text></g>
<g id="r2-24"><circle cx="1677.2" cy="307" r="9.5"/><text x="1677.2" y="327">EQ7''''''''''''''[30,45]</text><text x="1677.2" y="338">close Node: EQ1'''''''''''''''''''''''</text><text x="1677.2" y="349">similarity:0.2569380657801256</text></g>
<g id="r2-25"><circle cx="1739.5" cy="307" r="9.5"/><text x="1739.5" y="327">EQ9''''''[30,45]</text><text x="1739.5" y="338">close Node: EQ1''''''''''''''''''''''''</text><text x="1739.5" y="349">similarity:0.2056921204506818</text></g>
<g id="r2-26"><circle cx="1801.8" cy="307" r="9.5"/><text x="1801.8" y="327">EQ7'''''''''''''''[30,45]</text><text x="1801.8" y="338">close Node: EQ1'''''''''''''''''''''''''</text><text x="1801.8" y="349">similarity:0.2569306578012569</text></g>
<g id="r2-27"><circle cx="1864.1" cy="307" r="9.5"/><text x="1864.1" y="327">EQ4''''[15,29]</text><text x="1864.1" y="338">close Node: EQ1''''''''''''''''''''''''''</text><text x="1864.1" y="349">similarity:0.0098800834433929</text></g>
<g id="r2-28"><circle cx="1926.4" cy="307" r="9.5"/><text x="1926.4" y="327">EQ7''''''''''''''''[30,45]</text><text x="1926.4" y="338">close Node: EQ1'''''''''''''''''''''''''''</text><text x="1926.4" y="349">similarity:0.2569380657801256</text></g>
<g id="r2-29"><circle cx="1988.7" cy="307" r="9.5"/><text x="1988.7" y="327">EQ9'''''''[29,45]</text><text x="1988.7" y="338">close Node: EQ1''''''''''''''''''''''''''''</text><text x="1988.7" y="349">similarity:0.3405580340396811</text></g>
<g id="r2-30"><circle cx="2051" cy="307" r="9.5"/><text x="2051" y="327">EQ7'''''''''''''''''[30,44]</text><text x="2051" y="338">close Node: EQ1'''''''''''''''''''''''''''''</text><text x="2051" y="349">similarity:0.2569306578012569</text></g>
<g id="r2-31"><circle cx="2113.3" cy="307" r="9.5"/><text x="2113.3" y="327">EQ9''''''''[29,45]</text><text x="2113.3" y="338">close Node: EQ1''''''''''''''''''''''''''''''</text><text x="2113.3" y="349">similarity:0.3405683439444615</text></g>
<g id="r2-32"><circle cx="2175.6" cy="307" r="9.5"/><text x="2175.6" y="327">EQ7''''''''''''''''''[30,45]</text><text x="2175.6" y="338">close Node: EQ1'''''''''''''''''''''''''''''''</text><text x="2175.6" y="349">similarity:0.2569380657801256</text></g>
<g id="r2-33"><circle cx="2237.9" cy="307" r="9.5"/><text x="2237.9" y="327">EQ7'''''''''''''''''''[30,44]</text><text x="2237.9" y="338">close Node: EQ1''''''''''''''''''''''''''''''''</text><text x="2237.9" y="349">similarity:0.2569306578012569</text></g>
<g id="r2-34"><circle cx="2300.2" cy="307" r="9.5"/><text x="2300.2" y="327">EQ7''''''''''''''''''''[30,45]</text><text x="2300.2" y="338">close Node: EQ1'''''''''''''''''''''''''''''''''</text><text x="2300.2" y="349">similarity:0.2569380657801256</text></g>
<g id="r2-35"><circle cx="2362.5" cy="307" r="9.5"/><text x="2362.5" y="327">EQ9'''''''''[29,45]</text><text x="2362.5" y="338">close Node: EQ1''''''''''''''''''''''''''''''''''</text><text x="2362.5" y="349">similarity:0.2963076843439444515</text></g>
<g id="n-final"><circle cx="1273" cy="394" r="9.5"/><text x="1273" y="414">EQ9''''[29,45]</text><text x="1273" y="425">close Node: EQ4''</text><text x="1273" y="436">similarity:0.007049670925623735</text></g>
</svg>
